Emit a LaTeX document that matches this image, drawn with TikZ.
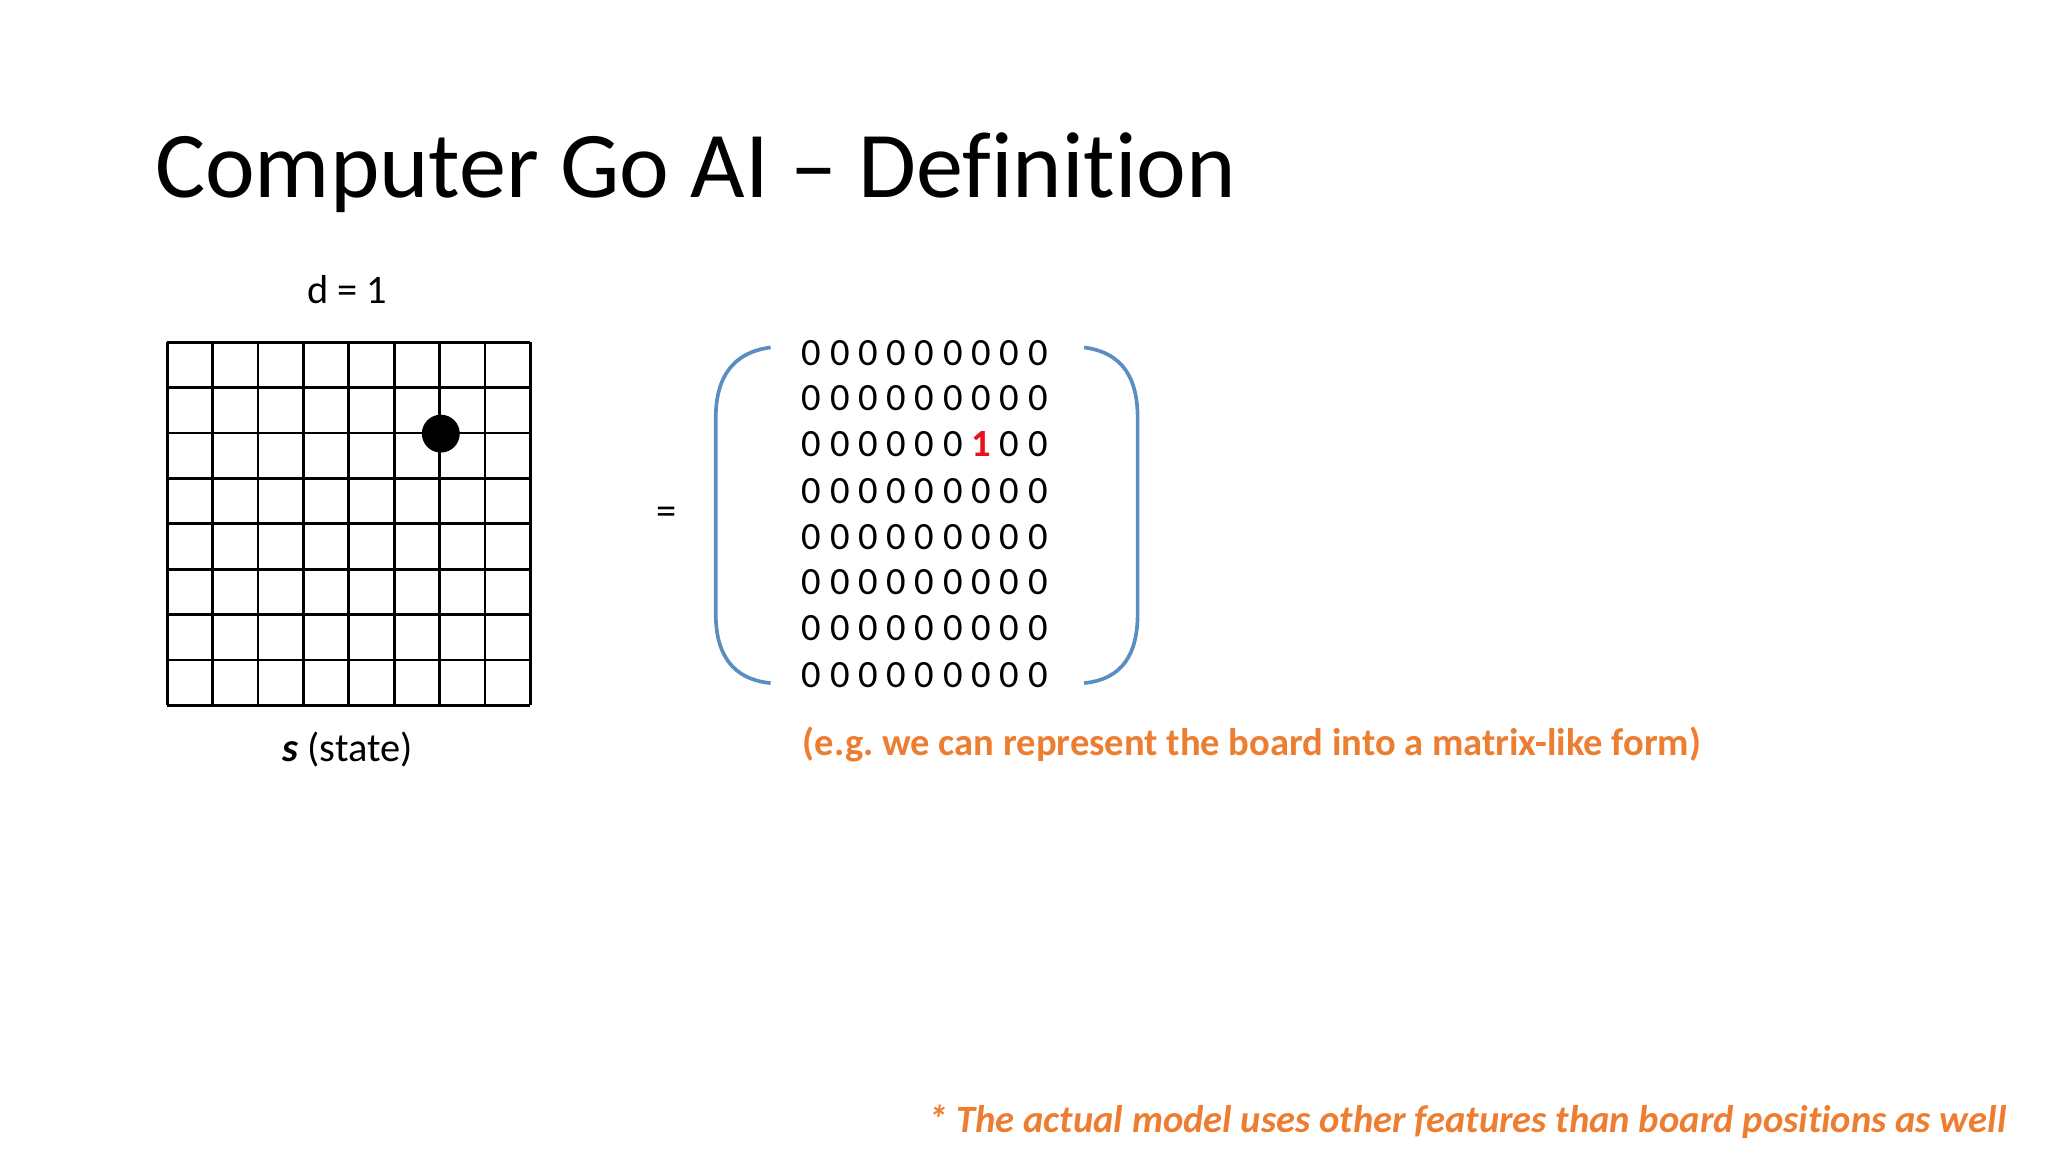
\documentclass[tikz,border=0pt]{standalone}
\usepackage{fontspec}
\setmainfont[Ligatures=NoCommon]{Carlito}
\definecolor{orng}{HTML}{ED7D31}
\definecolor{brk}{HTML}{5B8DC0}
\definecolor{redd}{HTML}{E8121B}
\frenchspacing
\begin{document}
\begin{tikzpicture}[x=0.01cm,y=-0.01cm,
  body/.style={font=\fontsize{8.8}{11}\selectfont,inner sep=0pt},
  mrow/.style={font=\fontsize{8.4}{11}\selectfont,inner sep=0pt}]
\useasboundingbox (0,0) rectangle (1568,882);
\node[anchor=west,inner sep=0pt,font=\fontsize{20.5}{26}\selectfont] (title) at (118,132) {Computer Go AI – Definition};
\node[body] (d) at (266,222) {d = 1};
\foreach \i in {0,...,8}{
  \draw[line width=0.6pt] (128+\i*34.75,262) -- (128+\i*34.75,540);
  \draw[line width=0.6pt] (128,262+\i*34.75) -- (406,262+\i*34.75);}
\fill (337.5,332) circle[radius=14.5];
\node[body] (s) at (266,574) {\textbf{\textit{s}} (state)};
\node[body] (eq) at (510,395) {=};
\foreach \y [count=\k] in {270,305,340,376,411,446,481,517}{
  \ifnum\k=3
    \node[mrow] (r\k) at (708,\y) {0 0 0 0 0 0 {\color{redd}\textbf{1}} 0 0};
  \else
    \node[mrow] (r\k) at (708,\y) {0 0 0 0 0 0 0 0 0};
  \fi}
\draw[brk,line width=0.8pt] (590,266) .. controls (560,270) and (548,290) .. (548,320) -- (548,470) .. controls (548,500) and (560,520) .. (590,523);
\draw[brk,line width=0.8pt] (830,266) .. controls (860,270) and (871,290) .. (871,320) -- (871,470) .. controls (871,500) and (860,520) .. (830,523);
\node[body,anchor=west,text=orng,font=\fontsize{8.4}{11}\selectfont\bfseries] (note) at (614,570) {(e.g. we can represent the board into a matrix-like form)};
\node[body,anchor=east,text=orng,font=\fontsize{8.4}{11}\selectfont\bfseries\itshape] (foot) at (1537,859) {* The actual model uses other features than board positions as well};
\end{tikzpicture}
\end{document}
